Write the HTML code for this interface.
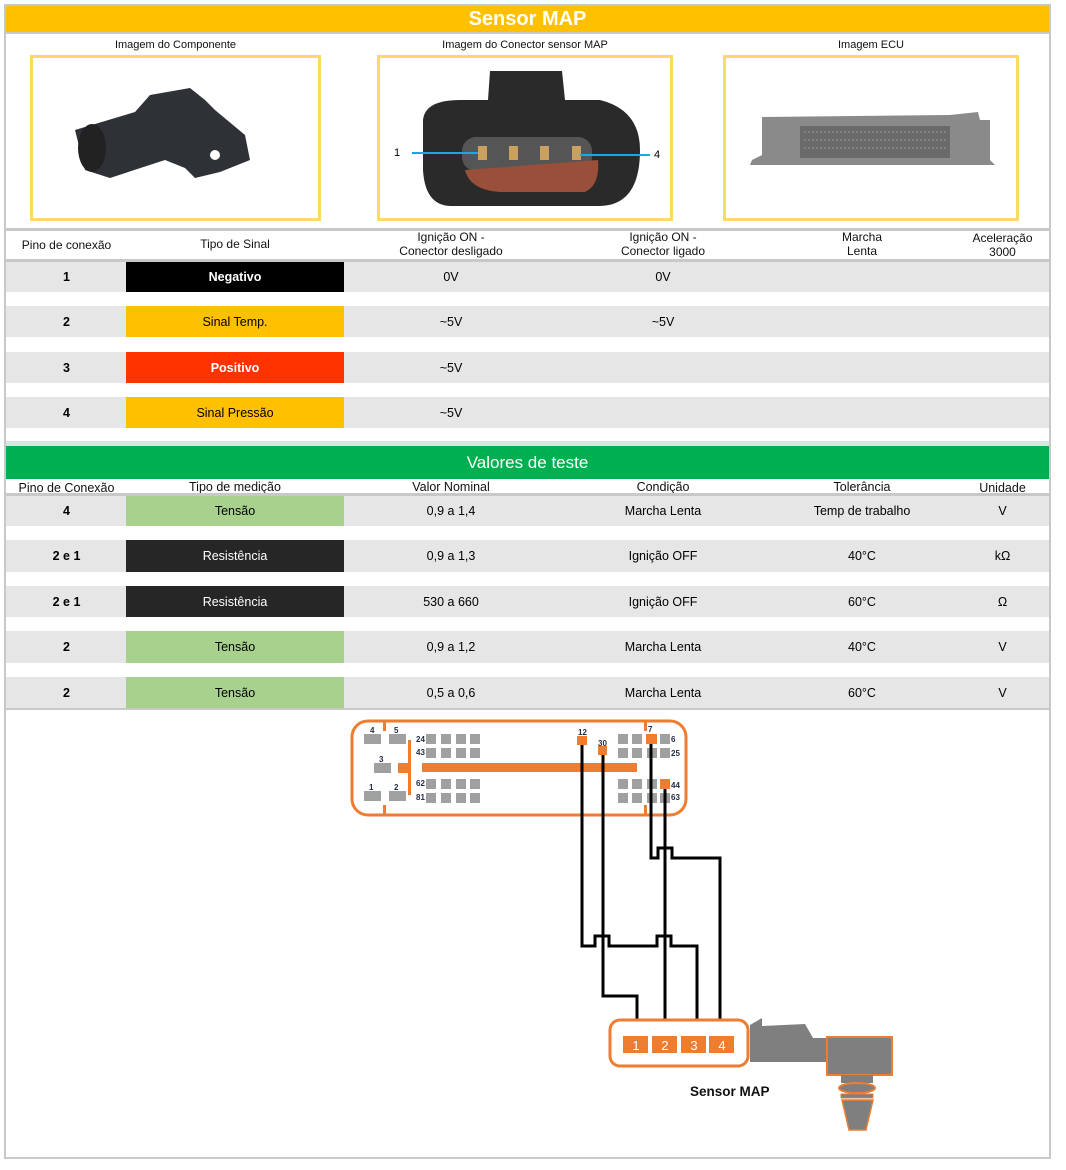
<!DOCTYPE html>
<html><head><meta charset="utf-8"><style>
body{margin:0;width:1066px;height:1170px;background:#fff;position:relative;overflow:hidden;font-family:"Liberation Sans",sans-serif}
div{position:absolute;box-sizing:border-box}
.t{text-align:center;font-size:12px;color:#111;line-height:14px}
.g{background:#e6e6e6}
.c{display:flex;align-items:center;justify-content:center;font-size:12.5px}
.b{font-weight:bold}
.ln{background:#c8c8c8}
.img{border:3px solid #ffd966}
</style></head><body>
<div style="left:4px;top:4px;width:1047px;height:1155px;border:2px solid #c8c8c8"></div>
<div class="c b" style="left:6px;top:6px;width:1043px;height:26px;background:#ffc000;color:#fff;font-size:20px">Sensor MAP</div>
<div class="ln" style="left:6px;top:32px;width:1043px;height:2px"></div>
<div class="t" style="left:30px;top:38px;width:291px;font-size:11px">Imagem do Componente</div>
<div class="t" style="left:377px;top:38px;width:296px;font-size:11px">Imagem do Conector sensor MAP</div>
<div class="t" style="left:723px;top:38px;width:296px;font-size:11px">Imagem ECU</div>
<div class="img" style="left:30px;top:55px;width:291px;height:166px"></div>
<div class="img" style="left:377px;top:55px;width:296px;height:166px"></div>
<div class="img" style="left:723px;top:55px;width:296px;height:166px"></div>
<svg style="position:absolute;left:0;top:0" width="1066" height="1170">
<!-- component -->
<path d="M75 130 L135 112 L150 95 L190 88 L205 100 L215 110 L245 135 L250 160 L220 172 L195 178 L185 168 L165 160 L110 178 L85 170 Z" fill="#2e3136"/>
<ellipse cx="92" cy="148" rx="14" ry="24" fill="#222"/>
<circle cx="215" cy="155" r="5" fill="#fff"/>
<!-- connector -->
<path d="M490 71 L562 71 L565 100 L600 100 Q640 110 640 150 Q640 205 600 206 L450 206 Q425 205 423 170 L423 120 Q425 100 460 100 L488 100 Z" fill="#2a2a2a"/>
<rect x="462" y="137" width="130" height="34" rx="14" fill="#555"/>
<path d="M465 170 Q470 190 500 192 L585 192 Q600 185 598 160" fill="#9a4f3a"/>
<g fill="#caa060"><rect x="478" y="146" width="9" height="14"/><rect x="509" y="146" width="9" height="14"/><rect x="540" y="146" width="9" height="14"/><rect x="572" y="146" width="9" height="14"/></g>
<line x1="412" y1="153" x2="478" y2="153" stroke="#18a8e8" stroke-width="2"/>
<line x1="580" y1="155" x2="650" y2="155" stroke="#18a8e8" stroke-width="2"/>
<text x="394" y="156" font-size="11" font-family="Liberation Sans">1</text>
<text x="654" y="158" font-size="11" font-family="Liberation Sans">4</text>
<!-- ecu -->
<path d="M762 117 L950 115 L978 112 L980 120 L990 120 L990 160 L995 165 L750 165 L752 160 L762 155 Z" fill="#8a8a8a"/>
<rect x="800" y="126" width="150" height="32" fill="#6a6a6a"/>
<g stroke="#9a9a9a" stroke-width="1"><line x1="804" y1="132" x2="946" y2="132" stroke-dasharray="2 2"/><line x1="804" y1="140" x2="946" y2="140" stroke-dasharray="2 2"/><line x1="804" y1="148" x2="946" y2="148" stroke-dasharray="2 2"/></g>

<!-- diagram ECU -->
<rect x="352" y="721" width="334" height="94" rx="16" fill="none" stroke="#ed7d31" stroke-width="3"/>
<g fill="#ed7d31">
<rect x="383" y="721" width="3" height="10"/><rect x="644" y="721" width="3" height="10"/>
<rect x="383" y="805" width="3" height="10"/><rect x="644" y="805" width="3" height="10"/>
<rect x="408" y="740" width="3" height="55"/><rect x="398" y="763" width="12" height="10"/>
<rect x="422" y="763" width="215" height="9"/>
</g>
<g fill="#a0a0a0">
<rect x="364" y="734" width="17" height="10"/><rect x="389" y="734" width="17" height="10"/>
<rect x="374" y="763" width="17" height="10"/>
<rect x="364" y="791" width="17" height="10"/><rect x="389" y="791" width="17" height="10"/>
<rect x="426" y="734" width="10" height="10"/><rect x="441" y="734" width="10" height="10"/><rect x="456" y="734" width="10" height="10"/><rect x="470" y="734" width="10" height="10"/>
<rect x="426" y="748" width="10" height="10"/><rect x="441" y="748" width="10" height="10"/><rect x="456" y="748" width="10" height="10"/><rect x="470" y="748" width="10" height="10"/>
<rect x="426" y="779" width="10" height="10"/><rect x="441" y="779" width="10" height="10"/><rect x="456" y="779" width="10" height="10"/><rect x="470" y="779" width="10" height="10"/>
<rect x="426" y="793" width="10" height="10"/><rect x="441" y="793" width="10" height="10"/><rect x="456" y="793" width="10" height="10"/><rect x="470" y="793" width="10" height="10"/>
<rect x="618" y="734" width="10" height="10"/><rect x="632" y="734" width="10" height="10"/><rect x="660" y="734" width="10" height="10"/>
<rect x="618" y="748" width="10" height="10"/><rect x="632" y="748" width="10" height="10"/><rect x="647" y="748" width="10" height="10"/><rect x="660" y="748" width="10" height="10"/>
<rect x="618" y="779" width="10" height="10"/><rect x="632" y="779" width="10" height="10"/><rect x="647" y="779" width="10" height="10"/>
<rect x="618" y="793" width="10" height="10"/><rect x="632" y="793" width="10" height="10"/><rect x="647" y="793" width="10" height="10"/><rect x="660" y="793" width="10" height="10"/>
</g>
<g fill="#ed7d31"><rect x="577" y="736" width="10" height="9"/><rect x="598" y="746" width="9" height="9"/><rect x="646" y="734" width="11" height="10"/><rect x="660" y="779" width="10" height="10"/></g>
<g font-family="Liberation Sans" font-weight="bold" font-size="8" fill="#1f2a44">
<text x="370" y="733">4</text><text x="394" y="733">5</text><text x="379" y="762">3</text><text x="369" y="790">1</text><text x="394" y="790">2</text>
<text x="416" y="742">24</text><text x="416" y="755">43</text><text x="416" y="786">62</text><text x="416" y="800">81</text>
<text x="578" y="735">12</text><text x="598" y="746">30</text><text x="648" y="732">7</text><text x="671" y="742">6</text><text x="671" y="756">25</text><text x="671" y="788">44</text><text x="671" y="800">63</text>
</g>
<g fill="none" stroke="#000" stroke-width="3">
<path d="M582 745 V946 H595 V936 H609 V946 H657 V936 H671 V946 H697 V1020"/>
<path d="M603 755 V996 H637 V1020"/>
<path d="M665 789 V1020"/>
<path d="M651 744 V858 H658 V848 H672 V858 H720 V1020"/>
</g>
<!-- sensor -->
<path d="M750 1025 L762 1018 L762 1026 L805 1024 L813 1038 L828 1038 L828 1062 L750 1062 Z" fill="#7f7f7f"/>
<rect x="827" y="1037" width="65" height="38" fill="#7f7f7f" stroke="#ed7d31" stroke-width="2"/>
<rect x="841" y="1075" width="32" height="8" fill="#7f7f7f"/>
<ellipse cx="857" cy="1088" rx="18" ry="5" fill="#7f7f7f" stroke="#ed7d31" stroke-width="2"/>
<rect x="841" y="1094" width="32" height="4" fill="#7f7f7f" stroke="#ed7d31" stroke-width="1"/>
<path d="M842 1100 L873 1100 L866 1130 L849 1130 Z" fill="#7f7f7f" stroke="#ed7d31" stroke-width="1.5"/>
<rect x="610" y="1020" width="138" height="46" rx="10" fill="#fff" stroke="#ed7d31" stroke-width="3"/>
<g fill="#ed7d31"><rect x="623" y="1036" width="25" height="17"/><rect x="652" y="1036" width="25" height="17"/><rect x="681" y="1036" width="25" height="17"/><rect x="709" y="1036" width="25" height="17"/></g>
<g fill="#fff" font-family="Liberation Sans" font-size="13" text-anchor="middle"><text x="636" y="1050">1</text><text x="665" y="1050">2</text><text x="694" y="1050">3</text><text x="722" y="1050">4</text></g>
<text x="690" y="1096" font-family="Liberation Sans" font-weight="bold" font-size="13.5" fill="#111">Sensor MAP</text>
</svg>

<div class="ln" style="left:6px;top:228px;width:1043px;height:3px"></div>
<div class="t" style="left:7px;top:238px;width:119px">Pino de conexão</div>
<div class="t" style="left:126px;top:237px;width:218px">Tipo de Sinal</div>
<div class="t" style="left:344px;top:230px;width:214px">Ignição ON -<br>Conector desligado</div>
<div class="t" style="left:558px;top:230px;width:210px">Ignição ON -<br>Conector ligado</div>
<div class="t" style="left:768px;top:230px;width:188px">Marcha<br>Lenta</div>
<div class="t" style="left:956px;top:231px;width:93px">Aceleração<br>3000</div>
<div class="ln" style="left:6px;top:259px;width:1043px;height:3px"></div>

<div class="g" style="left:6px;top:262px;width:1043px;height:30px"></div>
<div class="c b" style="left:7px;top:262px;width:119px;height:30px">1</div>
<div class="c b" style="left:126px;top:262px;width:218px;height:30px;background:#000;color:#fff">Negativo</div>
<div class="c" style="left:344px;top:262px;width:214px;height:30px">0V</div>
<div class="c" style="left:558px;top:262px;width:210px;height:30px">0V</div>

<div class="g" style="left:6px;top:306px;width:1043px;height:31px"></div>
<div class="c b" style="left:7px;top:306px;width:119px;height:31px">2</div>
<div class="c" style="left:126px;top:306px;width:218px;height:31px;background:#ffc000">Sinal Temp.</div>
<div class="c" style="left:344px;top:306px;width:214px;height:31px">~5V</div>
<div class="c" style="left:558px;top:306px;width:210px;height:31px">~5V</div>

<div class="g" style="left:6px;top:352px;width:1043px;height:31px"></div>
<div class="c b" style="left:7px;top:352px;width:119px;height:31px">3</div>
<div class="c b" style="left:126px;top:352px;width:218px;height:31px;background:#ff3300;color:#fff">Positivo</div>
<div class="c" style="left:344px;top:352px;width:214px;height:31px">~5V</div>

<div class="g" style="left:6px;top:397px;width:1043px;height:31px"></div>
<div class="c b" style="left:7px;top:397px;width:119px;height:31px">4</div>
<div class="c" style="left:126px;top:397px;width:218px;height:31px;background:#ffc000">Sinal Pressão</div>
<div class="c" style="left:344px;top:397px;width:214px;height:31px">~5V</div>

<div class="ln" style="left:6px;top:441px;width:1043px;height:5px;background:#dde4e0"></div>
<div class="c" style="left:6px;top:446px;width:1043px;height:33px;background:#00b050;color:#fff;font-size:17px">Valores de teste</div>
<div class="t" style="left:7px;top:481px;width:119px;font-size:12.5px">Pino de Conexão</div>
<div class="t" style="left:126px;top:480px;width:218px;font-size:12.5px">Tipo de medição</div>
<div class="t" style="left:344px;top:480px;width:214px;font-size:12.5px">Valor Nominal</div>
<div class="t" style="left:558px;top:480px;width:210px;font-size:12.5px">Condição</div>
<div class="t" style="left:768px;top:480px;width:188px;font-size:12.5px">Tolerância</div>
<div class="t" style="left:956px;top:481px;width:93px;font-size:12.5px">Unidade</div>
<div class="ln" style="left:6px;top:493px;width:1043px;height:3px"></div>

<div class="g" style="left:6px;top:496px;width:1043px;height:30px"></div>
<div class="c b" style="left:7px;top:496px;width:119px;height:30px">4</div>
<div class="c" style="left:126px;top:496px;width:218px;height:30px;background:#a9d18e">Tensão</div>
<div class="c" style="left:344px;top:496px;width:214px;height:30px">0,9 a 1,4</div>
<div class="c" style="left:558px;top:496px;width:210px;height:30px">Marcha Lenta</div>
<div class="c" style="left:768px;top:496px;width:188px;height:30px">Temp de trabalho</div>
<div class="c" style="left:956px;top:496px;width:93px;height:30px">V</div>

<div class="g" style="left:6px;top:540px;width:1043px;height:32px"></div>
<div class="c b" style="left:7px;top:540px;width:119px;height:32px">2 e 1</div>
<div class="c" style="left:126px;top:540px;width:218px;height:32px;background:#262626;color:#fff">Resistência</div>
<div class="c" style="left:344px;top:540px;width:214px;height:32px">0,9 a 1,3</div>
<div class="c" style="left:558px;top:540px;width:210px;height:32px">Ignição OFF</div>
<div class="c" style="left:768px;top:540px;width:188px;height:32px">40°C</div>
<div class="c" style="left:956px;top:540px;width:93px;height:32px">kΩ</div>

<div class="g" style="left:6px;top:586px;width:1043px;height:31px"></div>
<div class="c b" style="left:7px;top:586px;width:119px;height:31px">2 e 1</div>
<div class="c" style="left:126px;top:586px;width:218px;height:31px;background:#262626;color:#fff">Resistência</div>
<div class="c" style="left:344px;top:586px;width:214px;height:31px">530 a 660</div>
<div class="c" style="left:558px;top:586px;width:210px;height:31px">Ignição OFF</div>
<div class="c" style="left:768px;top:586px;width:188px;height:31px">60°C</div>
<div class="c" style="left:956px;top:586px;width:93px;height:31px">Ω</div>

<div class="g" style="left:6px;top:631px;width:1043px;height:32px"></div>
<div class="c b" style="left:7px;top:631px;width:119px;height:32px">2</div>
<div class="c" style="left:126px;top:631px;width:218px;height:32px;background:#a9d18e">Tensão</div>
<div class="c" style="left:344px;top:631px;width:214px;height:32px">0,9 a 1,2</div>
<div class="c" style="left:558px;top:631px;width:210px;height:32px">Marcha Lenta</div>
<div class="c" style="left:768px;top:631px;width:188px;height:32px">40°C</div>
<div class="c" style="left:956px;top:631px;width:93px;height:32px">V</div>

<div class="g" style="left:6px;top:677px;width:1043px;height:31px"></div>
<div class="c b" style="left:7px;top:677px;width:119px;height:31px">2</div>
<div class="c" style="left:126px;top:677px;width:218px;height:31px;background:#a9d18e">Tensão</div>
<div class="c" style="left:344px;top:677px;width:214px;height:31px">0,5 a 0,6</div>
<div class="c" style="left:558px;top:677px;width:210px;height:31px">Marcha Lenta</div>
<div class="c" style="left:768px;top:677px;width:188px;height:31px">60°C</div>
<div class="c" style="left:956px;top:677px;width:93px;height:31px">V</div>
<div class="ln" style="left:6px;top:708px;width:1043px;height:2px"></div>
</body></html>
